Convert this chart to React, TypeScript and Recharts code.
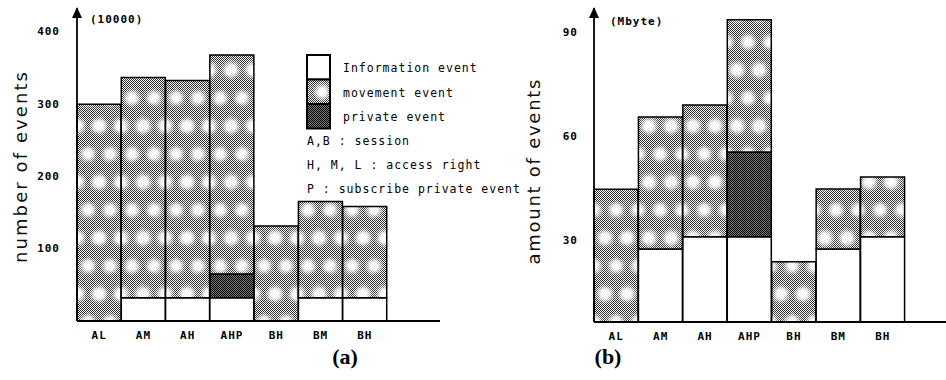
import React from "react";
import { BarChart, Bar, XAxis, YAxis, Legend } from "recharts";

// bars left to right (the second "BH" is printed twice in the figure)
const categories = ["AL", "AM", "AH", "AHP", "BH", "BM", "BH"];

// (a) number of events, unit 10000
const countInfo = [0, 32, 32, 32, 0, 32, 32];
const countPrivate = [0, 0, 0, 33, 0, 0, 0];
const countMovement = [299, 304, 300, 302, 131, 133, 126];
const countTicks = [100, 200, 300, 400];

// (b) amount of events, Mbyte
const sizeInfo = [0, 27.4, 30.9, 30.9, 0, 27.4, 30.9];
const sizePrivate = [0, 0, 0, 24.5, 0, 0, 0];
const sizeMovement = [44.6, 38.1, 38.0, 38.1, 23.7, 17.3, 17.3];
const sizeTicks = [30, 60, 90];

const legendOrder = ["Information event", "movement event", "private event"];
const notes = ["A,B : session", "H, M, L : access right", "P : subscribe private event"];

const countData = categories.map((name, i) => ({
  name,
  info: countInfo[i],
  priv: countPrivate[i],
  move: countMovement[i],
}));
const sizeData = categories.map((name, i) => ({
  name,
  info: sizeInfo[i],
  priv: sizePrivate[i],
  move: sizeMovement[i],
}));

const fills: Record<string, string> = {
  "Information event": "#ffffff",
  "movement event": "url(#movePat)",
  "private event": "url(#privPat)",
};

const mono = "'DejaVu Sans Mono', monospace";
const tickStyle = { fontFamily: mono, fontSize: 11, fontWeight: 700, fill: "#000", letterSpacing: 1 };

// arrow head, unit and rotated title around the y axis line
const axisDecor =
  (unit: string, unitDx: number, unitDy: number, title: string, titleDx: number, titleDy: number, titleLen: number) =>
  (props: any) => {
    const vb = props.viewBox || { x: 0, y: 0, width: 0, height: 0 };
    const ax = vb.x + vb.width;
    const top = vb.y;
    const mid = vb.y + vb.height / 2;
    return (
      <g>
        <polygon points={`${ax},${top - 1} ${ax - 5},${top + 10} ${ax + 5},${top + 10}`} fill="#000" />
        <text x={ax + unitDx} y={top + unitDy} fontFamily={mono} fontSize={11} fontWeight={700} style={{ letterSpacing: 1 }} fill="#000">
          {unit}
        </text>
        <text
          transform={`translate(${ax + titleDx},${mid + titleDy}) rotate(-90)`}
          textAnchor="middle"
          fontFamily="'DejaVu Sans', sans-serif"
          fontSize={18}
          textLength={titleLen}
          lengthAdjust="spacing"
          fill="#111"
        >
          {title}
        </text>
      </g>
    );
  };

function EventLegend({ payload }: any) {
  const items = legendOrder
    .map((n) => (payload || []).find((p: any) => p.value === n))
    .filter(Boolean);
  return (
    <svg width={240} height={150} style={{ display: "block", overflow: "visible" }}>
      {items.map((p: any, i: number) => (
        <g key={p.value}>
          <rect x={7} y={5 + i * 24.5} width={23} height={24.5} fill={fills[p.value]} stroke="#000" strokeWidth={2} />
          <text x={43} y={5 + i * 24.5 + 17} fontFamily={mono} fontSize={11.5} style={{ letterSpacing: 1 }} fill="#000">
            {p.value}
          </text>
        </g>
      ))}
      {notes.map((t, i) => (
        <text key={t} x={7} y={95 + i * 24} fontFamily={mono} fontSize={11.5} style={{ letterSpacing: 1 }} fill="#000">
          {t}
        </text>
      ))}
    </svg>
  );
}

function Patterns() {
  return (
    <svg width={0} height={0} style={{ position: "absolute" }}>
      <defs>
        <pattern id="dither" width={2} height={2} patternUnits="userSpaceOnUse">
          <rect width={2} height={2} fill="#fff" />
          <rect width={1} height={1} fill="#2a2a2a" />
          <rect x={1} y={1} width={1} height={1} fill="#2a2a2a" />
        </pattern>
        <filter id="soft" x="-50%" y="-50%" width="200%" height="200%">
          <feGaussianBlur stdDeviation={2.2} />
        </filter>
        <pattern id="movePat" width={22} height={56} patternUnits="userSpaceOnUse">
          <rect width={22} height={56} fill="url(#dither)" />
          <circle cx={11} cy={14} r={7.5} fill="#fff" filter="url(#soft)" />
          <circle cx={0} cy={42} r={7} fill="#fff" filter="url(#soft)" />
          <circle cx={22} cy={42} r={7} fill="#fff" filter="url(#soft)" />
        </pattern>
        <pattern id="privPat" width={2} height={2} patternUnits="userSpaceOnUse">
          <rect width={2} height={2} fill="#7a7a7a" />
          <rect width={1} height={1} fill="#000" />
          <rect x={1} y={1} width={1} height={1} fill="#000" />
        </pattern>
      </defs>
    </svg>
  );
}

const caption: React.CSSProperties = {
  position: "absolute",
  top: 357,
  transform: "translate(-50%, -50%)",
  fontFamily: "'Liberation Serif', serif",
  fontWeight: 700,
  fontSize: 22,
  lineHeight: 1,
  color: "#000",
};

export default function App() {
  const bars = [
    <Bar key="info" dataKey="info" stackId="s" name="Information event" fill={fills["Information event"]} stroke="#000" strokeWidth={1.5} isAnimationActive={false} />,
    <Bar key="priv" dataKey="priv" stackId="s" name="private event" fill={fills["private event"]} stroke="#000" strokeWidth={1.5} isAnimationActive={false} />,
    <Bar key="move" dataKey="move" stackId="s" name="movement event" fill={fills["movement event"]} stroke="#000" strokeWidth={1.5} isAnimationActive={false} />,
  ];

  return (
    <div style={{ position: "absolute", left: 0, top: 0, width: 946, height: 380, background: "#fff" }}>
      <Patterns />
      <div style={{ position: "absolute", left: 0, top: 0 }}>
        <BarChart width={440} height={380} data={countData} margin={{ top: 8, right: 0, bottom: 29, left: 0 }} barCategoryGap={0} barGap={0}>
          <XAxis
            dataKey="name"
            interval={0}
            tickLine={false}
            tickSize={0}
            tickMargin={10}
            height={30}
            axisLine={{ stroke: "#000", strokeWidth: 2 }}
            tick={tickStyle}
            padding={{ left: 0, right: 53 }}
          />
          <YAxis
            type="number"
            domain={[0, 432]}
            ticks={countTicks}
            allowDataOverflow
            width={77}
            tickLine={false}
            tickSize={0}
            tickMargin={17}
            axisLine={{ stroke: "#000", strokeWidth: 1.8 }}
            tick={tickStyle}
            label={axisDecor("(10000)", 13, 15, "number of events", -50, 3, 191)}
          />
          <Legend
            layout="vertical"
            align="center"
            verticalAlign="middle"
            content={<EventLegend />}
            wrapperStyle={{ left: 300, top: 50, width: 240, height: 150 }}
          />
          {bars}
        </BarChart>
      </div>
      <div style={{ position: "absolute", left: 440, top: 0 }}>
        <BarChart width={506} height={380} data={sizeData} margin={{ top: 8, right: 0, bottom: 28, left: 0 }} barCategoryGap={0} barGap={0}>
          <XAxis
            dataKey="name"
            interval={0}
            tickLine={false}
            tickSize={0}
            tickMargin={10}
            height={30}
            axisLine={{ stroke: "#000", strokeWidth: 2 }}
            tick={tickStyle}
            padding={{ left: 0, right: 41 }}
          />
          <YAxis
            type="number"
            domain={[6.35, 96.9]}
            ticks={sizeTicks}
            allowDataOverflow
            width={154}
            tickLine={false}
            tickSize={0}
            tickMargin={16}
            axisLine={{ stroke: "#000", strokeWidth: 1.8 }}
            tick={tickStyle}
            label={axisDecor("(Mbyte)", 16, 17, "amount of events", -54, 7, 185)}
          />
          {bars}
        </BarChart>
      </div>
      <div style={{ ...caption, left: 345 }}>(a)</div>
      <div style={{ ...caption, left: 608 }}>(b)</div>
    </div>
  );
}
